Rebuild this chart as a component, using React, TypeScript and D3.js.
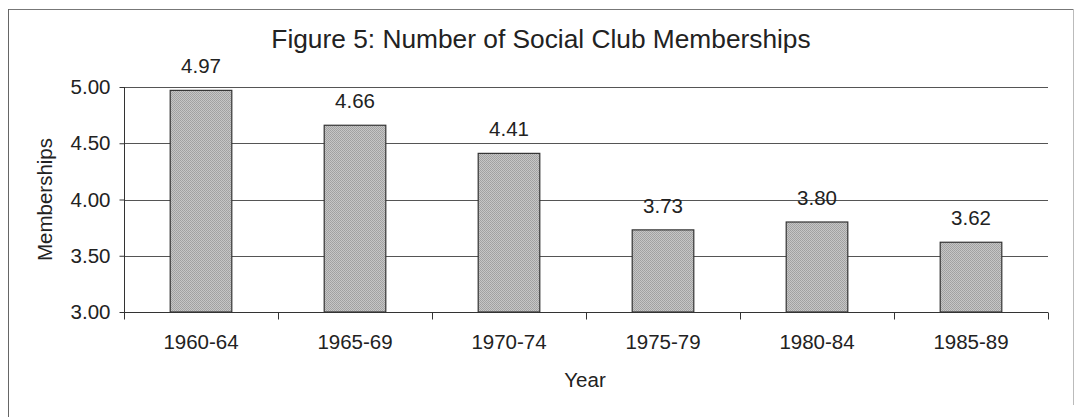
import * as React from "react"
import * as d3 from "d3"

const categories = ["1960-64", "1965-69", "1970-74", "1975-79", "1980-84", "1985-89"]
const memberships = [4.97, 4.66, 4.41, 3.73, 3.8, 3.62]
const yTicks = [3.0, 3.5, 4.0, 4.5, 5.0]

const W = 1074
const H = 417
const font = "Arial, 'Liberation Sans', Helvetica, sans-serif"

export default function App() {
  const svgRef = React.useRef<SVGSVGElement>(null)

  React.useEffect(() => {
    if (!svgRef.current) return
    const svg = d3.select(svgRef.current)
    svg.selectAll("*").remove()

    const plot = { left: 124, right: 1048, top: 87, bottom: 312 }

    const x = d3.scaleBand<string>().domain(categories).range([plot.left, plot.right]).paddingInner(0).paddingOuter(0)
    const y = d3.scaleLinear().domain([3, 5]).range([plot.bottom, plot.top])
    const barW = x.bandwidth() * 0.4

    // dithered grey fill like the printed chart
    const pat = svg.append("defs").append("pattern")
      .attr("id", "dither").attr("width", 2).attr("height", 2).attr("patternUnits", "userSpaceOnUse")
    pat.append("rect").attr("width", 2).attr("height", 2).attr("fill", "#c6c6c6")
    pat.append("rect").attr("width", 1).attr("height", 1).attr("fill", "#a0a0a0")
    pat.append("rect").attr("x", 1).attr("y", 1).attr("width", 1).attr("height", 1).attr("fill", "#a4a4a4")

    // outer frame (top, left, right edges as in the scan)
    svg.append("line").attr("x1", 8).attr("x2", 1073).attr("y1", 9.5).attr("y2", 9.5).attr("stroke", "#777").attr("stroke-width", 1)
    svg.append("line").attr("x1", 8.5).attr("x2", 8.5).attr("y1", 9).attr("y2", 417).attr("stroke", "#666").attr("stroke-width", 1)
    svg.append("line").attr("x1", 1073.5).attr("x2", 1073.5).attr("y1", 9).attr("y2", 405).attr("stroke", "#bbb").attr("stroke-width", 1)

    // title
    svg.append("text")
      .attr("x", 541).attr("y", 48)
      .attr("text-anchor", "middle")
      .style("font-family", font).style("font-size", "26.3px").style("fill", "#222")
      .text("Figure 5: Number of Social Club Memberships")

    // gridlines
    svg.append("g").selectAll("line").data(yTicks.slice(1)).enter().append("line")
      .attr("x1", plot.left).attr("x2", plot.right)
      .attr("y1", (d) => Math.round(y(d)) + 0.5).attr("y2", (d) => Math.round(y(d)) + 0.5)
      .attr("stroke", "#555").attr("stroke-width", 1)

    // bars
    svg.append("g").selectAll("rect").data(memberships).enter().append("rect")
      .attr("x", (_, i) => x(categories[i])! + (x.bandwidth() - barW) / 2)
      .attr("y", (d) => y(d))
      .attr("width", barW)
      .attr("height", (d) => y(3) - y(d))
      .attr("fill", "url(#dither)")
      .attr("stroke", "#333").attr("stroke-width", 1.2)

    // value labels
    svg.append("g").selectAll("text").data(memberships).enter().append("text")
      .attr("x", (_, i) => x(categories[i])! + x.bandwidth() / 2)
      .attr("y", (d) => y(d) - 17)
      .attr("text-anchor", "middle")
      .style("font-family", font).style("font-size", "20.5px").style("fill", "#222")
      .text((d) => d.toFixed(2))

    // y axis
    const yAxis = svg.append("g").attr("transform", `translate(${plot.left + 0.5},0)`)
      .call(d3.axisLeft(y).tickValues(yTicks).tickFormat(d3.format(".2f")).tickSize(5).tickPadding(9))
    yAxis.select(".domain").attr("stroke", "#333").attr("d", `M0,${plot.top}V${plot.bottom}`)
    yAxis.selectAll(".tick line").attr("stroke", "#333")
    yAxis.selectAll("text").style("font-family", font).style("font-size", "20.5px").style("fill", "#222")

    // x axis
    const xAxis = svg.append("g").attr("transform", `translate(0,${plot.bottom + 0.5})`)
      .call(d3.axisBottom(x).tickSize(0).tickPadding(22))
    xAxis.select(".domain").attr("stroke", "#333").attr("d", `M${plot.left},0H${plot.right}`)
    xAxis.selectAll("text").style("font-family", font).style("font-size", "20.5px").style("fill", "#222")
    // category separators
    const seps = categories.map((c) => x(c)!).concat([plot.right])
    xAxis.append("g").selectAll("line").data(seps).enter().append("line")
      .attr("x1", (d) => Math.round(d) + 0.5).attr("x2", (d) => Math.round(d) + 0.5)
      .attr("y1", 0).attr("y2", 7).attr("stroke", "#333")

    // axis titles
    svg.append("text")
      .attr("x", (plot.left + plot.right) / 2 - 1).attr("y", 387)
      .attr("text-anchor", "middle")
      .style("font-family", font).style("font-size", "20.5px").style("fill", "#222")
      .text("Year")
    svg.append("text")
      .attr("transform", `translate(52,${(plot.top + plot.bottom) / 2}) rotate(-90)`)
      .attr("text-anchor", "middle")
      .style("font-family", font).style("font-size", "20.5px").style("fill", "#222")
      .text("Memberships")
  }, [])

  return (
    <div style={{ position: "absolute", left: 0, top: 0, background: "#fff" }}>
      <svg ref={svgRef} width={W} height={H} viewBox={`0 0 ${W} ${H}`} style={{ display: "block" }} />
    </div>
  )
}
